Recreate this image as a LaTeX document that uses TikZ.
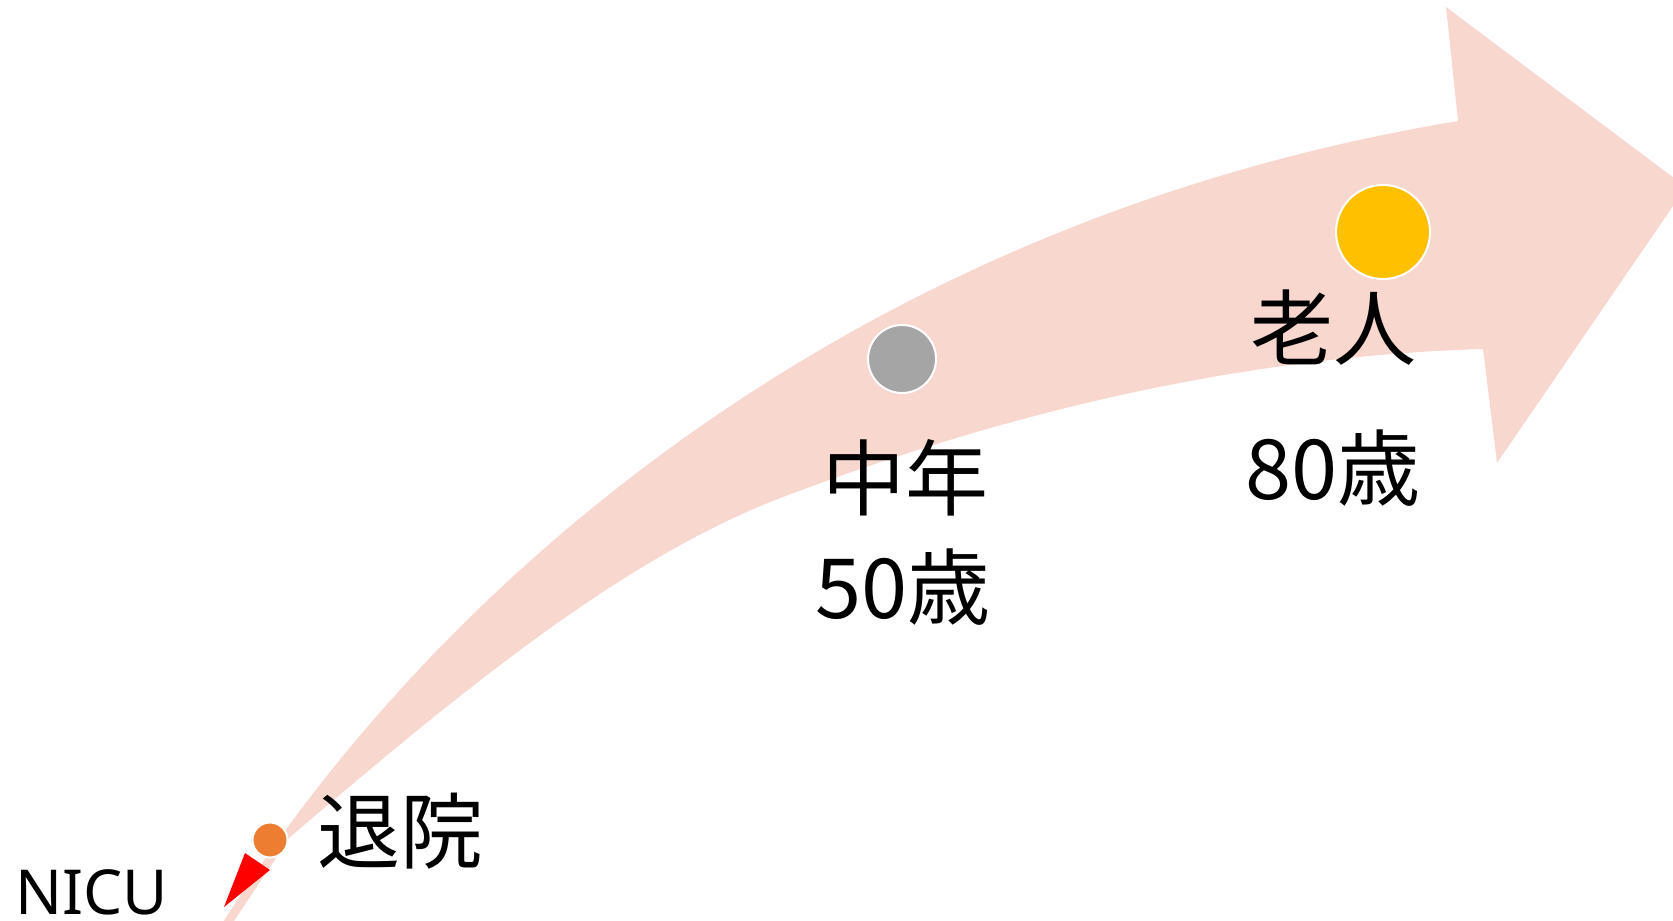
\documentclass[tikz,border=0pt]{standalone}
\usepackage{fontspec}
\setmainfont{Noto Sans CJK JP}
\newfontfamily\latinfont{Noto Sans}
\definecolor{band}{RGB}{248,216,206}
\definecolor{dotorange}{RGB}{237,125,49}
\definecolor{dotgray}{RGB}{165,165,165}
\definecolor{dotyellow}{RGB}{255,192,0}
\tikzset{
  dot/.style={circle, draw=white, line width=1pt, inner sep=0pt},
  bigtext/.style={inner sep=0pt, font=\fontsize{41.5pt}{50pt}\selectfont},
  smalltext/.style={inner sep=0pt, font=\latinfont\fontsize{31pt}{38pt}\selectfont}
}
\begin{document}
\begin{tikzpicture}[x=0.5pt,y=-0.5pt]
\useasboundingbox (0,0) rectangle (1673,920);
\clip (0,0) rectangle (1673,920);
% curved arrow band
\fill[band] (222,924) .. controls (430,590.7) and (842.3,223) .. (1458,121)
  -- (1446,7) -- (1686,187) -- (1497,463) -- (1483,349)
  .. controls (1250,356) and (1016,408.5) .. (783,497)
  .. controls (619,559) and (454,697.6) .. (290,837)
  -- (232,924) -- cycle;
% red pointer
\fill[red] (245,853) -- (270,870) -- (224,907) -- cycle;
% dots
\node[dot, fill=dotorange, minimum size=17.5pt] (d1) at (270,840) {};
\node[dot, fill=dotgray, minimum size=34pt] (d2) at (902,359) {};
\node[dot, fill=dotyellow, minimum size=47pt] (d3) at (1383,232) {};
% labels
\node[smalltext, anchor=base west] (nicu) at (15,914) {NICU};
\node[bigtext] (t1) at (400,831) {退院};
\node[bigtext] (t2) at (905,478) {中年};
\node[bigtext] (t3) at (903,587) {50歳};
\node[bigtext] (t4) at (1333,328) {老人};
\node[bigtext] (t5) at (1333,468) {80歳};
\end{tikzpicture}
\end{document}
